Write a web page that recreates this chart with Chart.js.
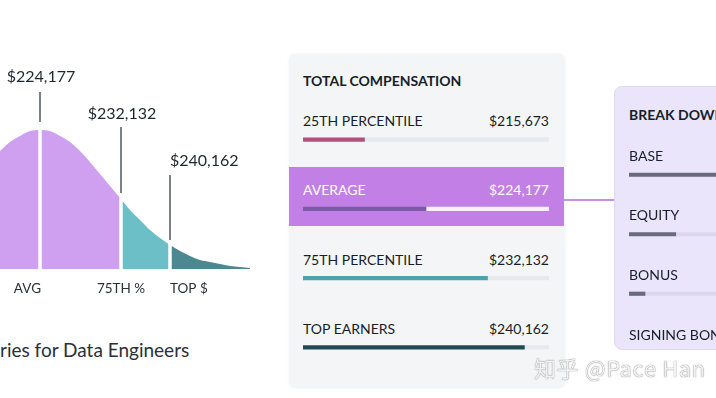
<!DOCTYPE html>
<html lang="en">
<head>
    <meta charset="UTF-8">
    <title>Salaries for Data Engineers</title>
    <style>
        body {
            margin: 0;
            width: 716px;
            height: 398px;
            overflow: hidden;
            position: relative;
            background: #fff;
            font-family: Lato, "Open Sans", sans-serif;
            color: #1c2530;
        }

        .abs { position: absolute; }

        #curveCanvas { left: 0; top: 0; }

        .caption {
            left: 0;
            top: 338px;
            font-size: 19px;
            color: #2a3038;
            line-height: 24px;
        }

        .panel {
            left: 289px;
            top: 54px;
            width: 276px;
            height: 334px;
            background: #f3f5f7;
            border-radius: 6px;
            box-shadow: 0 0 3px rgba(0, 0, 0, 0.06);
        }

        .highlight {
            left: 289px;
            top: 167px;
            width: 275px;
            height: 59px;
            background: #c27fe5;
        }

        .connector {
            left: 564px;
            top: 199px;
            width: 51px;
            height: 2px;
            background: #c88fe6;
        }

        .breakdown {
            left: 614px;
            top: 86px;
            width: 220px;
            height: 262px;
            background: #ebe5fb;
            border: 1px solid #e0d8f5;
            border-radius: 8px;
            overflow: hidden;
        }

        .row-text {
            font-size: 14px;
            line-height: 20px;
            white-space: nowrap;
            color: #161e28;
        }

        .title { font-weight: 700; font-size: 14px; }

        .value { text-align: right; width: 120px; }

        .watermark {
            left: 534px;
            top: 352px;
            font-family: "Noto Sans CJK SC", sans-serif;
            font-size: 22px;
            letter-spacing: 0.6px;
            line-height: 30px;
            color: #f2f2f2;
            text-shadow: 0 0 1px #8c8c8c, 0 0 1px #8c8c8c;
            white-space: nowrap;
        }
    </style>
    <script src="https://cdn.jsdelivr.net/npm/chart.js"></script>
</head>
<body>
    <canvas id="curveCanvas" class="abs" width="262" height="300"></canvas>
    <div class="abs caption">ries for Data Engineers</div>

    <div class="abs panel"></div>
    <div class="abs highlight"></div>
    <div class="abs connector"></div>
    <div class="abs row-text title" style="left:303px; top:71px;">TOTAL COMPENSATION</div>
    <div id="compText"></div>
    <canvas id="compCanvas" class="abs" width="246" height="277" style="left:303px; top:105px;"></canvas>

    <div class="abs breakdown" id="breakdownBox">
        <div class="abs row-text title" style="left:14px; top:18px;">BREAK DOWN</div>
        <canvas id="breakCanvas" class="abs" width="246" height="238" style="left:14px; top:58px;"></canvas>
    </div>

    <div class="abs watermark">知乎 @Pace Han</div>

    <script>
        // Distribution curve, heights (x in chart units)
        const curveX = [0, 10, 20, 30, 40, 50, 60, 70, 80, 90, 100, 110, 121, 130, 140, 150, 160, 170, 180, 190, 200, 210, 220, 230, 240, 250];
        const curveY = [118, 127, 133, 138, 139, 138, 133, 127, 118, 107, 95, 83, 70, 59, 49, 39, 31, 24, 18, 13, 9, 7, 5, 3, 2, 1];

        // Markers on the curve
        const markerX = [40, 121, 170];
        const markerLabels = ['AVG', '75TH %', 'TOP $'];
        const markerValues = ['$224,177', '$232,132', '$240,162'];

        // Total compensation table
        const compRows = ['25TH PERCENTILE', 'AVERAGE', '75TH PERCENTILE', 'TOP EARNERS'];
        const compValues = ['$215,673', '$224,177', '$232,132', '$240,162'];
        const compPercent = [25, 50, 75, 90];

        // Break down of the average
        const breakRows = ['BASE', 'EQUITY', 'BONUS', 'SIGNING BONUS'];
        const breakPercent = [62, 19, 6.5, 4];

        const rowCenters = [121, 190, 260, 329];
        const breakCenters = [155, 214, 274, 334];

        // ---- table text ----
        const compText = document.getElementById('compText');
        compRows.forEach((name, i) => {
            const color = i === 1 ? '#fff' : '#161e28';
            compText.insertAdjacentHTML('beforeend',
                `<div class="abs row-text" style="left:303px; top:${rowCenters[i] - 10}px; color:${color}">${name}</div>` +
                `<div class="abs row-text value" style="left:429px; top:${rowCenters[i] - 10}px; color:${color}">${compValues[i]}</div>`);
        });
        const box = document.getElementById('breakdownBox');
        breakRows.forEach((name, i) => {
            box.insertAdjacentHTML('beforeend',
                `<div class="abs row-text" style="left:14px; top:${breakCenters[i] - 10 - 86}px;">${name}</div>`);
        });

        // ---- bell curve ----
        const pts = curveX.map((x, i) => ({ x: x, y: curveY[i] }));
        const segment = (from, to) => pts.filter(p => p.x >= from && p.x <= to);
        const heightAt = x => curveY[curveX.indexOf(x)];

        const fillSet = (data, color) => ({
            data: data,
            borderWidth: 0,
            backgroundColor: color,
            fill: 'origin',
            pointRadius: 0,
            cubicInterpolationMode: 'monotone'
        });
        const lineSet = (x, y0, y1, color, width) => ({
            data: [{ x: x, y: y0 }, { x: x, y: y1 }],
            borderColor: color,
            borderWidth: width,
            pointRadius: 0,
            fill: false
        });

        const valueHeights = [192, 155, 108];
        const valueAlign = ['center', 'center', 'left'];
        const labelAlign = ['right', 'center', 'left'];
        const leaderTop = [177, 142, 94];
        const leaderBottom = [147, 76, 29];

        const curveLabels = {
            id: 'curveLabels',
            afterDatasetsDraw(chart) {
                const { ctx, scales: { x, y }, chartArea } = chart;
                ctx.save();
                ctx.fillStyle = '#1f262e';
                ctx.textBaseline = 'middle';
                ctx.font = '16px Lato';
                markerValues.forEach((t, i) => {
                    ctx.textAlign = valueAlign[i];
                    ctx.fillText(t, x.getPixelForValue(markerX[i]) + (i < 2 ? 1 : 0), y.getPixelForValue(valueHeights[i]));
                });
                ctx.font = '13.5px Lato';
                ctx.fillStyle = '#2a3038';
                markerLabels.forEach((t, i) => {
                    ctx.textAlign = labelAlign[i];
                    ctx.fillText(t, x.getPixelForValue(markerX[i]) + (i === 0 ? 1 : 0), chartArea.bottom + 20);
                });
                ctx.restore();
            }
        };

        new Chart(document.getElementById('curveCanvas'), {
            type: 'line',
            data: {
                datasets: [
                    // white gaps between the regions (drawn on top)
                    ...markerX.map(mx => lineSet(mx, 0, heightAt(mx) + 3, '#ffffff', 3.5)),
                    // leaders
                    ...markerX.map((mx, i) => lineSet(mx, leaderBottom[i], leaderTop[i], '#50575e', 1.5)),
                    fillSet(segment(0, markerX[1]), '#cfa0ef'),
                    fillSet(segment(markerX[1], markerX[2]), '#6dbfc7'),
                    fillSet(segment(markerX[2], 250), '#4b8891')
                ]
            },
            options: {
                responsive: false,
                animation: false,
                layout: { padding: { left: 0, right: 2, top: 0, bottom: 31 } },
                plugins: { legend: { display: false }, tooltip: { enabled: false } },
                scales: {
                    x: { type: 'linear', min: 0, max: 260, display: false },
                    y: { min: 0, max: 269, display: false }
                }
            },
            plugins: [curveLabels]
        });

        // ---- progress bars ----
        function progressChart(id, rows, values, fills, tracks) {
            return new Chart(document.getElementById(id), {
                type: 'bar',
                data: {
                    labels: rows,
                    datasets: [
                        { data: values, backgroundColor: fills, barThickness: 3.5 },
                        { data: values.map(v => 100 - v), backgroundColor: tracks, barThickness: 3.5 }
                    ]
                },
                options: {
                    indexAxis: 'y',
                    responsive: false,
                    animation: false,
                    layout: { padding: 0 },
                    plugins: { legend: { display: false }, tooltip: { enabled: false } },
                    scales: {
                        x: { stacked: true, min: 0, max: 100, display: false },
                        y: { stacked: true, display: false }
                    }
                }
            });
        }

        progressChart('compCanvas', compRows, compPercent,
            ['#b0507d', '#7c5aa7', '#4ca3ad', '#1f4b55'],
            ['#e6e9ed', '#fbeffd', '#e6e9ed', '#e6e9ed']);

        progressChart('breakCanvas', breakRows, breakPercent,
            ['#676b7d', '#676b7d', '#676b7d', '#676b7d'],
            ['#ddd6ee', '#ddd6ee', '#ddd6ee', '#ddd6ee']);
    </script>
</body>
</html>
